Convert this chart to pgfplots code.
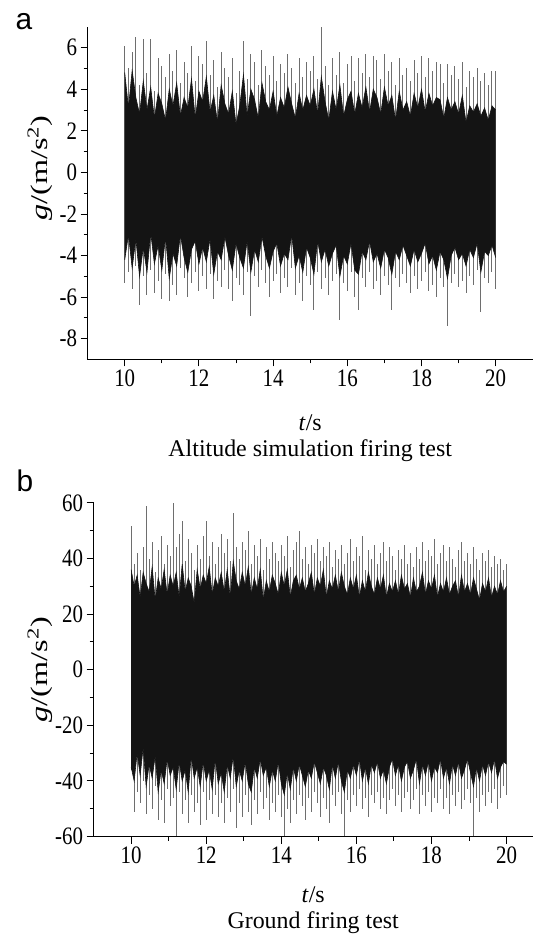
\documentclass[border=0pt]{standalone}
\usepackage{pgfplots}
\pgfplotsset{compat=1.18}
\usepackage{pgfplotstable}
\usepgfplotslibrary{fillbetween}
\usepackage{fontspec}
\setmainfont{Liberation Serif}
\newfontfamily\panelfont{Liberation Sans}

\definecolor{core}{HTML}{141414}
\definecolor{spike}{HTML}{6E6E6E}

% x  up  dn  ub  db   (gray spike tips, black core envelope)
\pgfplotstableread{
x up dn ub db
10.0 6.1 -5.3 4.8 -4.2
10.1 5.0 -4.8 3.1 -3.0
10.2 5.8 -5.6 4.9 -4.6
10.3 6.5 -4.5 3.6 -3.2
10.4 4.2 -6.4 2.8 -5.0
10.5 6.4 -5.0 4.4 -3.6
10.6 4.8 -5.9 3.0 -4.8
10.7 6.4 -4.7 4.1 -2.9
10.8 3.9 -5.8 2.6 -4.4
10.9 5.5 -5.2 3.8 -3.5
11.0 5.1 -6.1 3.3 -4.7
11.1 4.6 -4.9 2.5 -3.1
11.2 5.7 -6.2 4.0 -5.1
11.3 4.9 -5.4 3.2 -3.9
11.4 5.9 -5.9 4.3 -4.5
11.5 4.3 -4.6 2.7 -3.0
11.6 5.3 -5.1 3.6 -4.1
11.7 4.8 -6.0 3.1 -4.8
11.8 6.1 -5.3 4.5 -3.7
11.9 4.4 -4.8 2.6 -3.3
12.0 5.6 -5.7 3.9 -4.4
12.1 5.2 -5.0 3.4 -3.6
12.2 6.3 -5.6 4.6 -4.3
12.3 4.7 -4.9 2.9 -3.2
12.4 5.4 -6.1 3.7 -4.9
12.5 4.1 -5.2 2.4 -3.8
12.6 5.8 -5.5 4.2 -4.2
12.7 5.0 -4.7 3.3 -3.1
12.8 4.6 -5.6 2.8 -4.0
12.9 5.5 -6.2 3.9 -4.7
13.0 3.8 -5.1 2.3 -3.4
13.1 4.9 -5.4 3.2 -4.1
13.2 6.3 -5.9 4.7 -4.6
13.3 4.5 -4.8 2.7 -3.3
13.4 5.7 -6.9 4.0 -4.8
13.5 5.3 -5.0 3.5 -3.7
13.6 4.2 -5.5 2.6 -4.3
13.7 5.9 -4.7 4.3 -3.1
13.8 5.1 -5.3 3.4 -4.0
13.9 4.7 -6.0 3.0 -4.6
14.0 5.6 -5.2 3.9 -3.8
14.1 4.4 -4.9 2.7 -3.4
14.2 5.2 -5.8 3.6 -4.5
14.3 4.8 -5.1 3.1 -3.9
14.4 5.7 -5.5 4.1 -4.2
14.5 5.0 -4.6 3.3 -3.0
14.6 4.3 -5.9 2.6 -4.6
14.7 5.5 -5.3 3.8 -4.0
14.8 4.6 -6.2 3.0 -4.8
14.9 5.3 -5.0 3.7 -3.6
15.0 4.9 -5.4 3.2 -4.1
15.1 5.6 -6.6 4.0 -4.9
15.2 4.5 -4.8 2.8 -3.3
15.3 7.0 -5.6 4.6 -4.3
15.4 5.1 -5.1 3.4 -3.7
15.5 4.2 -5.9 2.5 -4.5
15.6 5.5 -5.2 3.9 -3.9
15.7 4.7 -4.9 3.0 -3.5
15.8 5.8 -7.1 4.2 -5.0
15.9 4.3 -5.3 2.7 -4.0
16.0 5.2 -5.7 3.5 -4.4
16.1 5.6 -4.8 3.9 -3.4
16.2 4.4 -6.0 2.8 -4.7
16.3 5.5 -6.6 3.8 -4.9
16.4 4.8 -5.1 3.1 -3.8
16.5 5.7 -5.5 4.1 -4.2
16.6 4.6 -4.8 2.9 -3.3
16.7 5.6 -5.6 4.0 -4.3
16.8 5.4 -5.2 3.6 -3.9
16.9 4.5 -5.9 2.8 -4.6
17.0 5.7 -5.0 4.1 -3.7
17.1 4.9 -5.4 3.2 -4.1
17.2 5.3 -6.6 3.7 -4.9
17.3 4.2 -5.1 2.5 -3.8
17.4 5.5 -5.5 3.9 -4.2
17.5 4.7 -4.9 3.0 -3.5
17.6 5.0 -5.3 3.4 -4.0
17.7 4.4 -5.8 2.7 -4.5
17.8 5.4 -5.0 3.8 -3.7
17.9 4.8 -5.6 3.1 -4.3
18.0 5.6 -5.2 4.0 -3.9
18.1 4.6 -4.8 2.9 -3.4
18.2 5.5 -5.7 3.8 -4.4
18.3 4.9 -5.4 3.2 -4.0
18.4 5.3 -6.0 3.6 -4.7
18.5 5.2 -5.1 3.5 -3.8
18.6 4.3 -5.5 2.6 -4.2
18.7 5.2 -7.4 3.6 -5.1
18.8 4.7 -5.3 3.0 -4.0
18.9 5.1 -4.9 3.4 -3.6
19.0 4.5 -5.5 2.8 -4.2
19.1 5.3 -5.2 3.7 -3.9
19.2 4.1 -5.8 2.4 -4.5
19.3 4.9 -5.0 3.2 -3.7
19.4 4.6 -5.4 2.9 -4.1
19.5 5.0 -4.7 3.3 -3.4
19.6 4.4 -6.7 2.7 -4.8
19.7 4.8 -5.1 3.1 -3.8
19.8 4.2 -5.3 2.5 -4.0
19.9 4.9 -4.8 3.2 -3.5
20.0 4.9 -5.6 3.0 -4.1
}\altitude

\pgfplotstableread{
x up dn ub db
10.00 51.8 -36.0 36.0 -35.0
10.08 38.0 -51.0 30.0 -40.0
10.16 42.0 -44.0 34.0 -30.0
10.24 36.0 -48.0 26.0 -38.0
10.32 44.0 -40.0 35.0 -28.0
10.40 59.0 -52.0 31.0 -42.0
10.48 40.0 -45.0 28.0 -34.0
10.56 46.0 -50.0 37.0 -39.0
10.64 35.0 -42.0 25.0 -31.0
10.72 43.0 -54.0 33.0 -44.0
10.80 48.0 -47.0 29.0 -36.0
10.88 38.0 -55.0 36.0 -41.0
10.96 45.0 -43.0 27.0 -32.0
11.04 41.0 -49.0 34.0 -38.0
11.12 60.0 -46.0 30.0 -35.0
11.20 44.0 -60.0 35.0 -43.0
11.28 49.0 -44.0 26.0 -33.0
11.36 53.6 -52.0 38.0 -40.0
11.44 39.0 -47.0 28.0 -36.0
11.52 47.0 -55.0 33.0 -44.0
11.60 42.0 -45.0 30.0 -31.0
11.68 36.0 -51.0 24.0 -39.0
11.76 45.0 -48.0 36.0 -35.0
11.84 40.0 -56.0 29.0 -42.0
11.92 48.0 -44.0 34.0 -33.0
12.00 53.6 -54.0 31.0 -40.0
12.08 41.0 -47.0 37.0 -36.0
12.16 46.0 -52.0 27.0 -43.0
12.24 38.0 -45.0 33.0 -32.0
12.32 44.0 -53.0 30.0 -41.0
12.40 49.0 -48.0 35.0 -37.0
12.48 42.0 -55.0 28.0 -44.0
12.56 47.0 -46.0 36.0 -34.0
12.64 39.0 -51.0 26.0 -39.0
12.72 56.5 -43.0 39.0 -31.0
12.80 44.0 -57.0 32.0 -42.0
12.88 40.0 -48.0 29.0 -36.0
12.96 46.0 -53.0 35.0 -40.0
13.04 43.0 -45.0 30.0 -33.0
13.12 50.0 -51.0 37.0 -41.0
13.20 38.0 -56.0 27.0 -44.0
13.28 45.0 -47.0 33.0 -35.0
13.36 41.0 -52.0 29.0 -39.0
13.44 47.0 -44.0 36.0 -32.0
13.52 36.0 -50.0 25.0 -38.0
13.60 44.0 -46.0 32.0 -35.0
13.68 40.0 -54.0 28.0 -42.0
13.76 46.0 -48.0 34.0 -36.0
13.84 42.0 -51.0 31.0 -40.0
13.92 39.0 -45.0 27.0 -33.0
14.00 45.0 -53.0 35.0 -41.0
14.08 41.0 -60.0 30.0 -45.0
14.16 48.0 -50.0 36.0 -37.0
14.24 37.0 -55.0 26.0 -43.0
14.32 43.0 -47.0 32.0 -35.0
14.40 46.0 -52.0 34.0 -40.0
14.48 50.0 -45.0 29.0 -34.0
14.56 40.0 -49.0 33.0 -38.0
14.64 44.0 -54.0 28.0 -42.0
14.72 38.0 -46.0 31.0 -36.0
14.80 45.0 -51.0 35.0 -39.0
14.88 42.0 -44.0 27.0 -33.0
14.96 47.0 -48.0 33.0 -37.0
15.04 39.0 -53.0 30.0 -41.0
15.12 44.0 -46.0 36.0 -35.0
15.20 41.0 -50.0 26.0 -38.0
15.28 46.0 -55.0 32.0 -43.0
15.36 37.0 -45.0 29.0 -34.0
15.44 43.0 -49.0 34.0 -39.0
15.52 40.0 -44.0 28.0 -33.0
15.60 45.0 -52.0 35.0 -40.0
15.68 38.0 -60.0 30.0 -44.0
15.76 42.0 -47.0 27.0 -36.0
15.84 47.0 -51.0 33.0 -39.0
15.92 39.0 -45.0 29.0 -34.0
16.00 44.0 -49.0 34.0 -38.0
16.08 41.0 -43.0 26.0 -32.0
16.16 48.0 -50.0 32.0 -40.0
16.24 36.0 -46.0 28.0 -35.0
16.32 43.0 -53.0 35.0 -41.0
16.40 40.0 -45.0 30.0 -34.0
16.48 45.0 -48.0 27.0 -37.0
16.56 38.0 -44.0 33.0 -33.0
16.64 42.0 -50.0 29.0 -39.0
16.72 46.0 -46.0 34.0 -36.0
16.80 39.0 -52.0 26.0 -41.0
16.88 44.0 -47.0 31.0 -35.0
16.96 41.0 -43.0 28.0 -32.0
17.04 36.0 -49.0 32.0 -38.0
17.12 43.0 -45.0 27.0 -34.0
17.20 40.0 -51.0 34.0 -40.0
17.28 45.0 -46.0 29.0 -35.0
17.36 38.0 -44.0 31.0 -33.0
17.44 42.0 -50.0 26.0 -39.0
17.52 37.0 -47.0 33.0 -36.0
17.60 44.0 -43.0 28.0 -32.0
17.68 40.0 -52.0 30.0 -41.0
17.76 46.0 -45.0 35.0 -34.0
17.84 39.0 -49.0 27.0 -38.0
17.92 43.0 -44.0 32.0 -33.0
18.00 41.0 -51.0 29.0 -40.0
18.08 47.0 -46.0 34.0 -35.0
18.16 38.0 -48.0 26.0 -37.0
18.24 42.0 -43.0 31.0 -32.0
18.32 45.0 -50.0 28.0 -39.0
18.40 39.0 -46.0 33.0 -35.0
18.48 44.0 -52.0 27.0 -41.0
18.56 40.0 -45.0 30.0 -34.0
18.64 37.0 -49.0 32.0 -38.0
18.72 43.0 -44.0 26.0 -33.0
18.80 46.0 -50.0 34.0 -39.0
18.88 39.0 -47.0 28.0 -36.0
18.96 42.0 -43.0 31.0 -32.0
19.04 38.0 -48.0 27.0 -37.0
19.12 44.0 -60.0 33.0 -42.0
19.20 40.0 -46.0 29.0 -35.0
19.28 36.0 -51.0 25.0 -40.0
19.36 42.0 -45.0 31.0 -34.0
19.44 39.0 -49.0 28.0 -38.0
19.52 43.0 -44.0 33.0 -33.0
19.60 37.0 -48.0 26.0 -37.0
19.68 41.0 -43.0 30.0 -32.0
19.76 38.0 -50.0 27.0 -39.0
19.84 40.0 -46.0 32.0 -35.0
19.92 36.0 -42.0 28.0 -33.0
20.00 38.0 -45.0 30.0 -34.0
}\ground

\pgfplotsset{
  sig/.style={
    set layers,
    scale only axis,
    axis x line=bottom,
    axis y line=left,
    axis line style={-, line width=1pt},
    tick align=outside,
    major tick length=7pt,
    minor tick length=4pt,
    every tick/.style={black, line width=0.9pt},
    minor x tick num=1,
    minor y tick num=1,
    xtick={10,12,...,20},
    tick label style={font=\fontsize{21}{21}\selectfont},
    /pgf/number format/assume math mode=true,
    xticklabel={\scalebox{1}[1.2]{\pgfmathprintnumber{\tick}}},
    yticklabel={\scalebox{1}[1.2]{\pgfmathprintnumber{\tick}}},
    label style={font=\fontsize{24}{26}\selectfont, inner sep=0pt},
    xlabel style={align=center, anchor=center},
    ylabel style={anchor=center},
    ylabel={\scalebox{1.35}[1]{\textit{g}/(m/s\textsuperscript{2})}},
  },
  spk/.style={ycomb, spike, line width=1pt, mark=none, on layer=axis background},
  env/.style={core, line width=0.6pt, mark=none},
}

\begin{document}
\begin{tikzpicture}
\path (0,0) rectangle (535pt,934pt);
\node[font=\panelfont\fontsize{30}{30}\selectfont, inner sep=0pt] at (24pt,912pt) {a};
\node[font=\panelfont\fontsize{30}{30}\selectfont, inner sep=0pt] at (25pt,451pt) {b};

\begin{axis}[sig,
  at={(88pt,573pt)}, anchor=south west,
  width=447pt, height=334pt,
  xmin=9, xmax=21, ymin=-9, ymax=7,
  ytick={-8,-6,...,6},
  xlabel={\textit{t}/s\\Altitude simulation firing test},
  xlabel style={at={(axis description cs:0.5,-0.237)}},
  ylabel style={at={(axis description cs:-0.107,0.575)}},
]
\addplot[spk] table[x=x, y=up] {\altitude};
\addplot[spk] table[x=x, y=dn] {\altitude};
\addplot[name path=atop, env] table[x=x, y=ub] {\altitude};
\addplot[name path=abot, env] table[x=x, y=db] {\altitude};
\addplot[core] fill between[of=atop and abot];
\end{axis}

\begin{axis}[sig,
  at={(94pt,94pt)}, anchor=south west,
  width=441pt, height=335pt,
  xmin=9, xmax=20.70, ymin=-60, ymax=60,
  ytick={-60,-40,...,60},
  xlabel={\textit{t}/s\\Ground firing test},
  xlabel style={at={(axis description cs:0.5,-0.222)}},
  ylabel style={at={(axis description cs:-0.122,0.5)}},
]
\addplot[spk] table[x=x, y=up] {\ground};
\addplot[spk] table[x=x, y=dn] {\ground};
\addplot[name path=gtop, env] table[x=x, y=ub] {\ground};
\addplot[name path=gbot, env] table[x=x, y=db] {\ground};
\addplot[core] fill between[of=gtop and gbot];
\end{axis}
\end{tikzpicture}
\end{document}
